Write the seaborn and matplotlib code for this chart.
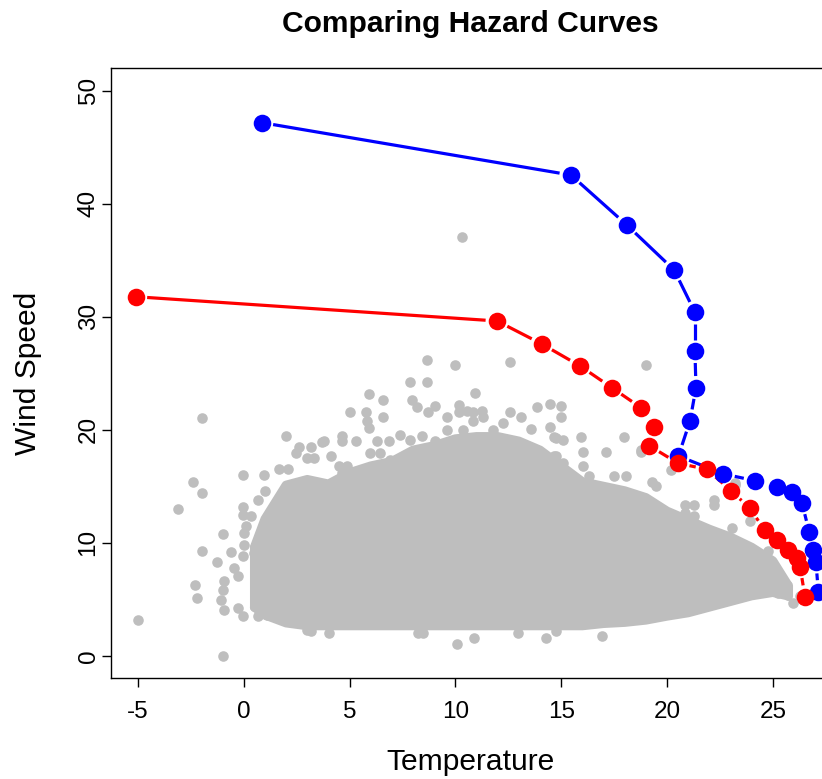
import numpy as np
import pandas as pd
import matplotlib
matplotlib.use("Agg")
import matplotlib.pyplot as plt
import seaborn as sns

# ---------------- data ----------------
title = "Comparing Hazard Curves"
x_label = "Temperature"
y_label = "Wind Speed"
x_ticks = [-5, 0, 5, 10, 15, 20, 25]
y_ticks = [0, 10, 20, 30, 40, 50]

blue_temp = [0.85, 15.46, 18.10, 20.34, 21.32, 21.32, 21.37, 21.09, 20.54,
             22.67, 24.16, 25.18, 25.91, 26.38, 26.72, 26.90, 27.04, 27.15]
blue_wind = [47.19, 42.55, 38.13, 34.14, 30.40, 26.93, 23.74, 20.80, 17.68,
             16.09, 15.49, 14.91, 14.49, 13.52, 10.95, 9.36, 8.30, 5.67]

red_temp = [-5.11, 11.97, 14.09, 15.89, 17.39, 18.79, 19.40, 19.16, 20.53,
            21.89, 23.04, 23.92, 24.62, 25.20, 25.73, 26.13, 26.29, 26.52]
red_wind = [31.78, 29.63, 27.59, 25.65, 23.73, 21.93, 20.27, 18.59, 17.03,
            16.50, 14.58, 13.05, 11.10, 10.24, 9.36, 8.62, 7.88, 5.22]

# dense core of the observation cloud (read as envelope of the solid grey area)
core_temp = [0.5, 1, 2, 3, 4, 5, 6, 7, 8, 9, 10, 11, 12, 13, 14, 15, 16, 17,
             18, 19, 20, 21, 22, 23, 24, 25, 25.7]
core_upper = [9.6, 12.1, 15.1, 15.6, 15.2, 16.2, 16.8, 17.2, 18.2, 18.6, 19.2,
              19.4, 19.4, 19.0, 18.2, 16.8, 15.4, 15.0, 14.6, 14.0, 12.8, 12.0,
              11.2, 10.5, 9.6, 8.4, 6.3]
core_lower = [4.3, 3.6, 2.9, 2.65, 2.65, 2.65, 2.65, 2.65, 2.65, 2.65, 2.65,
              2.65, 2.65, 2.65, 2.65, 2.65, 2.65, 2.85, 2.95, 3.15, 3.5, 3.8,
              4.3, 4.8, 5.3, 5.6, 5.3]

# individual observations around the core
obs_temp = [10.29, 8.67, 9.98, 12.56, 18.99, 7.86, 8.67, 5.9, 6.56, 7.94, 8.17, 10.92,
            5.04, 5.79, 6.56, 5.82, 5.9, 8.72, 9.04, 9.59, 10.18, 10.18, 10.53, 10.81,
            11.26, 11.31, 10.84, 9.59, 10.37, 11.78, 12.25, 12.56, 13.08, 13.55, 13.87,
            3.78, 4.65, 4.65, 5.32, 6.29, 6.84, 7.39, 7.86, 8.41, 9.04,
            4.1, 4.49, 4.88, 4.25, 4.65, 5.98, 6.45, 6.92,
            14.45, 14.45, 14.76, 14.68,
            4.02, 8.25, 8.49, 10.87, 12.95, 14.29, 10.06,
            15.0, 15.0, 14.68, 15.94, 17.97, 15.07, 16.01, 17.11, 18.76,
            14.76, 15.07, 14.92, 16.01, 16.33, 17.5, 18.05, 19.3, 19.46,
            20.87, 21.27, 20.87, 21.27, 22.2, 22.2, 23.07, 23.23, 23.93,
            24.79, 25.42, 25.97, 26.28, 16.95, 14.76, 24.48, 25.26,
            -1.98, 1.98, -2.41, -1.98, -3.11, -5.0, -0.97, -1.98, -2.29, -2.22, -1.27,
            -0.97, -0.6, -0.03, 0.96, 1.65, 2.1, 2.6, 3.16, 3.7, 3.0, 3.31, 2.45,
            -0.03, -0.03, 0.33, 0.1, 0.02, 0.65, 0.99, 0.02, 0.49, -0.06,
            -0.45, -0.29, -0.92, -1.0, -1.08, -0.92, -0.29, -0.06, 0.65, 1.12,
            3.0, 3.16, 18.76, 20.17, 23.23]
obs_wind = [37.05, 26.2, 25.75, 26.04, 25.7, 24.2, 24.2, 23.2, 22.6, 22.65, 22.06, 23.25,
            21.57, 21.57, 21.12, 20.74, 20.15, 21.57, 22.12, 21.12, 22.15, 21.57, 21.62, 21.57,
            21.62, 21.12, 20.74, 20.0, 20.0, 20.0, 20.59, 21.57, 21.09, 20.09, 22.0,
            18.97, 19.41, 18.97, 19.03, 19.03, 19.03, 19.56, 19.12, 19.41, 18.97,
            17.64, 16.75, 16.75, 15.28, 16.17, 17.94, 17.94, 17.35,
            22.3, 20.29, 19.27, 17.64,
            2.0, 2.0, 2.0, 1.56, 2.0, 1.56, 1.03,
            22.1, 21.1, 19.4, 19.4, 19.4, 19.1, 18.0, 18.0, 18.0,
            17.64, 17.05, 15.87, 16.75, 15.87, 15.87, 15.87, 15.42, 14.98,
            13.36, 13.36, 12.63, 12.33, 13.8, 13.36, 11.3, 15.13, 11.89,
            9.23, 6.73, 4.66, 5.25, 1.71, 2.15, 5.84, 5.55,
            21.0, 19.47, 15.4, 14.4, 12.98, 3.13, 0.0, 9.29, 6.28, 5.1, 8.26,
            10.8, 9.2, 16.0, 16.0, 16.5, 16.5, 18.5, 18.5, 18.9, 17.5, 17.5, 17.94,
            13.2, 12.48, 12.33, 11.44, 10.86, 13.8, 14.54, 9.82, 9.09, 8.79,
            7.76, 7.02, 6.58, 5.84, 4.96, 4.07, 4.22, 3.48, 3.48, 3.63,
            2.3, 2.15, 18.2, 16.46, 15.28]

# ---------------- style ----------------
W, H, DPI = 822, 779, 100
GREY = "#BEBEBE"
BLUE = "#0000FF"
RED = "#FF0000"

sns.set_theme(style="white")
plt.rcParams["font.family"] = ["Liberation Sans", "DejaVu Sans"]

fig = plt.figure(figsize=(W / DPI, H / DPI), dpi=DPI)
box_l, box_r, box_t, box_b = 110.7, 829.3, 68.3, 678.3
ax = fig.add_axes([box_l / W, 1 - box_b / H, (box_r - box_l) / W, (box_b - box_t) / H])
ax.set_xlim(-6.29, 27.67)
ax.set_ylim(-2, 52)

# observation cloud
EDGE_LW = 6.5
ax.fill_between(core_temp, core_lower, core_upper, color=GREY, lw=0, zorder=1)
for edge in (core_upper, core_lower):
    ax.plot(core_temp, edge, color=GREY, lw=EDGE_LW, solid_capstyle="round",
            solid_joinstyle="round", zorder=1)
ax.plot([core_temp[0], core_temp[0]], [core_lower[0], core_upper[0]], color=GREY,
        lw=EDGE_LW, solid_capstyle="round", zorder=1)
ax.plot([core_temp[-1], core_temp[-1]], [core_lower[-1], core_upper[-1]], color=GREY,
        lw=EDGE_LW, solid_capstyle="round", zorder=1)
obs = pd.DataFrame({"temp": obs_temp, "wind": obs_wind})
sns.scatterplot(data=obs, x="temp", y="wind", color=GREY, s=58, linewidth=0,
                ax=ax, zorder=2, legend=False)


def gapped_line(xs, ys, color, gap_px=11.5):
    pts = ax.transData.transform(np.column_stack([xs, ys]))
    inv = ax.transData.inverted()
    for p0, p1 in zip(pts[:-1], pts[1:]):
        d = p1 - p0
        L = np.hypot(d[0], d[1])
        if L <= 2 * gap_px + 1:
            continue
        u = d / L
        a = inv.transform(p0 + u * gap_px)
        b = inv.transform(p1 - u * gap_px)
        ax.plot([a[0], b[0]], [a[1], b[1]], color=color, lw=2.3,
                solid_capstyle="butt", zorder=3)


for tx, wy, col in ((blue_temp, blue_wind, BLUE), (red_temp, red_wind, RED)):
    gapped_line(tx, wy, col)
    df = pd.DataFrame({"temp": tx, "wind": wy})
    sns.scatterplot(data=df, x="temp", y="wind", color=col, s=160, linewidth=0,
                    ax=ax, zorder=4, legend=False)

# axes cosmetics
for s in ("left", "bottom", "top", "right"):
    ax.spines[s].set_color("black")
    ax.spines[s].set_linewidth(1.0)
ax.set_xticks(x_ticks)
ax.set_yticks(y_ticks)
ax.set_xticklabels([str(v) for v in x_ticks])
ax.set_yticklabels([str(v) for v in y_ticks])
ax.tick_params(axis="both", direction="out", length=6.5, width=1.0, color="black",
               labelsize=17.5, labelcolor="black", bottom=True, left=True)
ax.tick_params(axis="x", pad=10)
ax.tick_params(axis="y", pad=1.5)
plt.setp(ax.get_yticklabels(), rotation=90, va="center")
ax.set_xlabel("")
ax.set_ylabel("")
ax.grid(False)

fig.text(470 / W, 1 - 31.5 / H, title, ha="center", va="baseline",
         fontsize=21.6, fontweight="bold", color="black")
fig.text(470 / W, 1 - 770 / H, x_label, ha="center", va="baseline",
         fontsize=21.6, color="black")
fig.text(28 / W, 1 - 373 / H, y_label, ha="center", va="center", rotation=90,
         fontsize=21.6, color="black")

fig.savefig("out.png", dpi=DPI)
